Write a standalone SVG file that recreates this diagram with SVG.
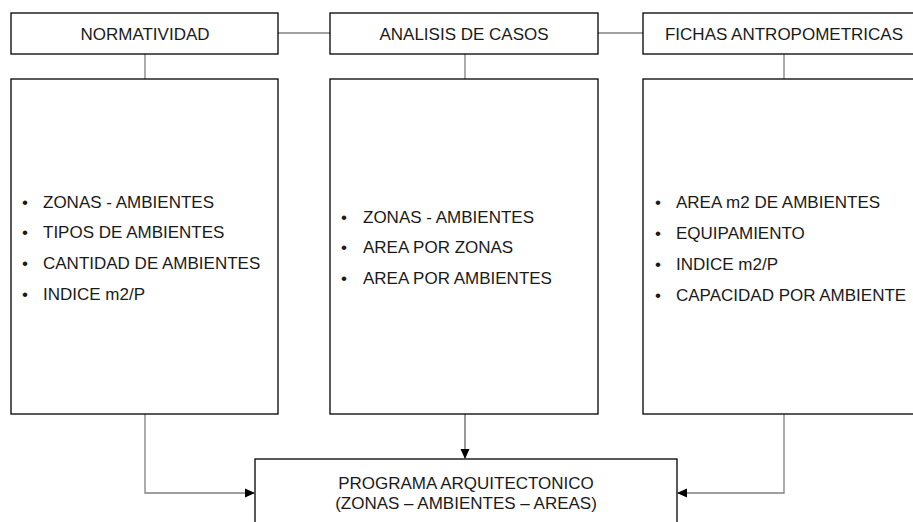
<svg xmlns="http://www.w3.org/2000/svg" width="913" height="522" viewBox="0 0 913 522">
<defs>
<style>
.box{fill:#fff;stroke:#000;stroke-width:1.3}
.t{font-family:"Liberation Sans",Arial,sans-serif;font-size:17px;fill:#1a1a1a}
.c{text-anchor:middle}
.ln{fill:none;stroke:#808080;stroke-width:1.3}
.ar{fill:none;stroke:#555;stroke-width:1.2}
</style>
<marker id="ah" markerWidth="10" markerHeight="10" refX="9" refY="5" orient="auto" markerUnits="userSpaceOnUse">
<path d="M0,0.5 L10,5 L0,9.5 Z" fill="#000"/>
</marker>
</defs>
<rect width="913" height="522" fill="#fff"/>
<g id="connectors">
<line class="ln" x1="278" y1="33" x2="330" y2="33"/>
<line class="ln" x1="598" y1="33" x2="643" y2="33"/>
<line class="ln" x1="145" y1="54" x2="145" y2="79"/>
<line class="ln" x1="465" y1="54" x2="465" y2="79"/>
<line class="ln" x1="784" y1="54" x2="784" y2="79"/>
<polyline class="ln" points="145,414 145,493 254,493" marker-end="url(#ah)"/>
<line class="ar" x1="465" y1="414" x2="465" y2="458" marker-end="url(#ah)"/>
<polyline class="ln" points="784,414 784,493 678,493" marker-end="url(#ah)"/>
</g>
<g id="normatividad">
<rect class="box" x="11" y="13" width="267" height="41"/>
<text class="t c" x="145" y="40">NORMATIVIDAD</text>
</g>
<g id="analisis">
<rect class="box" x="330" y="13" width="268" height="41"/>
<text class="t c" x="464" y="40">ANALISIS DE CASOS</text>
</g>
<g id="fichas">
<rect class="box" x="643" y="13" width="275" height="41"/>
<text class="t c" x="784" y="40">FICHAS ANTROPOMETRICAS</text>
</g>
<g id="normatividad-list">
<rect class="box" x="11" y="79" width="267" height="335"/>
<text class="t" x="22" y="208">•</text><text class="t" x="43" y="208">ZONAS - AMBIENTES</text>
<text class="t" x="22" y="238">•</text><text class="t" x="43" y="238">TIPOS DE AMBIENTES</text>
<text class="t" x="22" y="269">•</text><text class="t" x="43" y="269">CANTIDAD DE AMBIENTES</text>
<text class="t" x="22" y="300">•</text><text class="t" x="43" y="300">INDICE m2/P</text>
</g>
<g id="analisis-list">
<rect class="box" x="330" y="79" width="268" height="335"/>
<text class="t" x="341" y="223">•</text><text class="t" x="363" y="223">ZONAS - AMBIENTES</text>
<text class="t" x="341" y="253">•</text><text class="t" x="363" y="253">AREA POR ZONAS</text>
<text class="t" x="341" y="284">•</text><text class="t" x="363" y="284">AREA POR AMBIENTES</text>
</g>
<g id="fichas-list">
<rect class="box" x="643" y="79" width="275" height="335"/>
<text class="t" x="655" y="208">•</text><text class="t" x="676" y="208">AREA m2 DE AMBIENTES</text>
<text class="t" x="655" y="239">•</text><text class="t" x="676" y="239">EQUIPAMIENTO</text>
<text class="t" x="655" y="270">•</text><text class="t" x="676" y="270">INDICE m2/P</text>
<text class="t" x="655" y="301">•</text><text class="t" x="676" y="301">CAPACIDAD POR AMBIENTE</text>
</g>
<g id="programa">
<rect class="box" x="255" y="459" width="422" height="80"/>
<text class="t c" x="466" y="489">PROGRAMA ARQUITECTONICO</text>
<text class="t c" x="466" y="509">(ZONAS – AMBIENTES – AREAS)</text>
</g>
</svg>
